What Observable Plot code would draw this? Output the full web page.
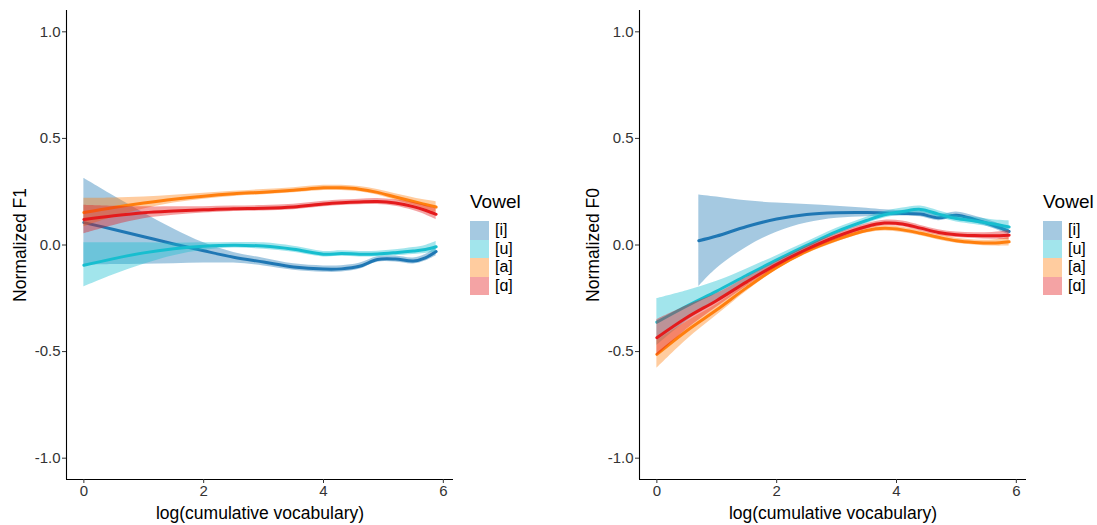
<!DOCTYPE html>
<html>
<head>
<meta charset="utf-8">
<script src="https://cdn.jsdelivr.net/npm/d3@7"></script>
<script src="https://cdn.jsdelivr.net/npm/@observablehq/plot@0.6"></script>
<style>
  html, body { margin: 0; padding: 0; background: #fff; }
  #root { position: relative; width: 1097px; height: 525px; font-family: "Liberation Sans", Arial, sans-serif; }
  .panel { position: absolute; top: 0; }
  .legend { position: absolute; top: 0; }
  .legend .title { position: absolute; left: 0; top: 191px; font-size: 19px; color: #000; white-space: nowrap; }
  .legend .key { position: absolute; left: 0; width: 19px; height: 18.5px; }
  .legend .lab { position: absolute; left: 25px; font-size: 16px; color: #000; line-height: 18.5px; white-space: nowrap; }
</style>
</head>
<body>
<div id="root"></div>
<script>
// ---------- data ----------
const vowels = ["[i]", "[u]", "[a]", "[ɑ]"];
const vowelColors = ["#1f77b4", "#17becf", "#ff7f0e", "#e41a1c"];
const xTicks = [0, 2, 4, 6];
const yTicks = [-1, -0.5, 0, 0.5, 1];
const xDomain = [-0.29, 6.17];
const yDomain = [-1.1, 1.1];

// Left panel: Normalized F1
const xF1 = [0, 0.5, 1, 1.5, 2, 2.5, 3, 3.5, 4, 4.3, 4.6, 4.9, 5.2, 5.5, 5.7, 5.88];
const f1_i    = [0.105, 0.073, 0.039, 0.005, -0.027, -0.057, -0.080, -0.103, -0.113, -0.112, -0.100, -0.068, -0.066, -0.075, -0.060, -0.031];
const f1_i_hi = [0.313, 0.230, 0.150, 0.075, 0.010, -0.035, -0.062, -0.088, -0.098, -0.097, -0.086, -0.055, -0.052, -0.061, -0.045, -0.012];
const f1_i_lo = [-0.095, -0.092, -0.090, -0.088, -0.085, -0.085, -0.098, -0.118, -0.128, -0.127, -0.114, -0.081, -0.080, -0.089, -0.075, -0.050];
const f1_u    = [-0.095, -0.064, -0.037, -0.018, -0.006, -0.001, -0.005, -0.020, -0.043, -0.040, -0.043, -0.042, -0.036, -0.028, -0.021, -0.008];
const f1_u_hi = [0.011, 0.011, 0.010, 0.008, 0.010, 0.012, 0.010, -0.006, -0.030, -0.027, -0.030, -0.029, -0.022, -0.012, -0.002, 0.016];
const f1_u_lo = [-0.197, -0.140, -0.090, -0.050, -0.025, -0.014, -0.020, -0.034, -0.056, -0.053, -0.056, -0.055, -0.050, -0.044, -0.040, -0.032];
const f1_a    = [0.152, 0.176, 0.197, 0.215, 0.229, 0.240, 0.248, 0.257, 0.268, 0.268, 0.262, 0.247, 0.225, 0.204, 0.190, 0.178];
const f1_a_hi = [0.219, 0.221, 0.225, 0.233, 0.243, 0.252, 0.260, 0.269, 0.280, 0.280, 0.274, 0.260, 0.240, 0.222, 0.211, 0.203];
const f1_a_lo = [0.085, 0.131, 0.169, 0.197, 0.215, 0.228, 0.236, 0.245, 0.256, 0.256, 0.250, 0.234, 0.210, 0.186, 0.169, 0.153];
const f1_A    = [0.120, 0.137, 0.151, 0.159, 0.165, 0.170, 0.172, 0.178, 0.192, 0.198, 0.202, 0.204, 0.197, 0.180, 0.163, 0.144];
const f1_A_hi = [0.187, 0.182, 0.179, 0.179, 0.180, 0.183, 0.185, 0.191, 0.205, 0.211, 0.215, 0.218, 0.212, 0.198, 0.184, 0.169];
const f1_A_lo = [0.053, 0.092, 0.123, 0.139, 0.150, 0.157, 0.159, 0.165, 0.179, 0.185, 0.189, 0.190, 0.182, 0.162, 0.142, 0.119];

// Right panel: Normalized F0
const xF0  = [0, 0.5, 1, 1.5, 2, 2.5, 3, 3.5, 3.8, 4.1, 4.4, 4.7, 5.0, 5.3, 5.6, 5.88];
const xF0i = [0.7, 1, 1.5, 2, 2.5, 3, 3.5, 3.8, 4.1, 4.4, 4.7, 5.0, 5.3, 5.6, 5.88];
const f0_i    = [0.020, 0.042, 0.087, 0.122, 0.143, 0.151, 0.152, 0.150, 0.148, 0.145, 0.128, 0.140, 0.120, 0.094, 0.064];
const f0_i_hi = [0.235, 0.225, 0.207, 0.197, 0.190, 0.182, 0.172, 0.165, 0.160, 0.158, 0.142, 0.155, 0.136, 0.110, 0.080];
const f0_i_lo = [-0.195, -0.110, -0.010, 0.060, 0.103, 0.125, 0.133, 0.135, 0.136, 0.132, 0.114, 0.126, 0.105, 0.078, 0.048];
const f0_u    = [-0.362, -0.286, -0.216, -0.142, -0.070, -0.002, 0.063, 0.115, 0.142, 0.157, 0.167, 0.145, 0.124, 0.113, 0.100, 0.085];
const f0_u_hi = [-0.252, -0.215, -0.170, -0.112, -0.050, 0.014, 0.078, 0.130, 0.157, 0.173, 0.183, 0.161, 0.140, 0.130, 0.118, 0.113];
const f0_u_lo = [-0.472, -0.357, -0.262, -0.172, -0.090, -0.018, 0.048, 0.100, 0.127, 0.141, 0.151, 0.129, 0.108, 0.096, 0.082, 0.057];
const f0_a    = [-0.513, -0.402, -0.304, -0.200, -0.105, -0.030, 0.025, 0.068, 0.078, 0.071, 0.055, 0.036, 0.020, 0.012, 0.009, 0.015];
const f0_a_hi = [-0.448, -0.360, -0.278, -0.183, -0.093, -0.018, 0.037, 0.080, 0.090, 0.083, 0.067, 0.048, 0.032, 0.024, 0.023, 0.035];
const f0_a_lo = [-0.578, -0.444, -0.330, -0.217, -0.117, -0.042, 0.013, 0.056, 0.066, 0.059, 0.043, 0.024, 0.008, 0.000, -0.005, -0.005];
const f0_A    = [-0.435, -0.340, -0.260, -0.173, -0.091, -0.020, 0.040, 0.087, 0.103, 0.099, 0.079, 0.059, 0.048, 0.044, 0.043, 0.046];
const f0_A_hi = [-0.350, -0.285, -0.228, -0.153, -0.078, -0.007, 0.053, 0.100, 0.116, 0.112, 0.092, 0.072, 0.061, 0.057, 0.059, 0.068];
const f0_A_lo = [-0.520, -0.395, -0.292, -0.193, -0.104, -0.033, 0.027, 0.074, 0.090, 0.086, 0.066, 0.046, 0.035, 0.031, 0.027, 0.024];

// ---------- build rows ----------
function rows(xs, ys, lo, hi) {
  return xs.map((x, k) => ({x, y: ys[k], lo: lo[k], hi: hi[k]}));
}
const seriesF1 = [
  rows(xF1, f1_i, f1_i_lo, f1_i_hi),
  rows(xF1, f1_u, f1_u_lo, f1_u_hi),
  rows(xF1, f1_a, f1_a_lo, f1_a_hi),
  rows(xF1, f1_A, f1_A_lo, f1_A_hi)
];
const seriesF0 = [
  rows(xF0i, f0_i, f0_i_lo, f0_i_hi),
  rows(xF0, f0_u, f0_u_lo, f0_u_hi),
  rows(xF0, f0_a, f0_a_lo, f0_a_hi),
  rows(xF0, f0_A, f0_A_lo, f0_A_hi)
];

const FONT = "Liberation Sans, Arial, Helvetica, sans-serif";

function panel(series, yLabel, width) {
  const marks = [];
  series.forEach((data, k) => {
    marks.push(Plot.areaY(data, {x: "x", y1: "lo", y2: "hi", fill: vowelColors[k], fillOpacity: 0.4, curve: "catmull-rom"}));
    marks.push(Plot.lineY(data, {x: "x", y: "y", stroke: vowelColors[k], strokeWidth: 3, curve: "catmull-rom"}));
  });
  return Plot.plot({
    width: width,
    height: 525,
    marginLeft: 66,
    marginRight: width - 453,
    marginTop: 10,
    marginBottom: 46,
    style: {fontFamily: FONT, fontSize: "15px", color: "#333", background: "transparent", overflow: "visible"},
    x: {domain: xDomain},
    y: {domain: yDomain},
    marks: [
      ...marks,
      Plot.ruleX([xDomain[0]], {stroke: "#000", strokeWidth: 1.1}),
      Plot.ruleY([yDomain[0]], {stroke: "#000", strokeWidth: 1.1}),
      Plot.axisX({ticks: xTicks, tickSize: 4, tickPadding: 2, tickFormat: d => String(d), label: null, stroke: "#333", fill: "#333", fontSize: 15}),
      Plot.axisY({ticks: yTicks, tickSize: 4, tickPadding: 2, tickFormat: d => d.toFixed(1), label: null, stroke: "#333", fill: "#333", fontSize: 15}),
      Plot.text(["log(cumulative vocabulary)"], {frameAnchor: "bottom", dy: 39, text: d => d, fontSize: 17.5, fill: "#000", textAnchor: "middle", lineAnchor: "bottom"}),
      Plot.text([yLabel], {frameAnchor: "left", dx: -46, rotate: -90, text: d => d, fontSize: 17.5, fill: "#000", textAnchor: "middle", lineAnchor: "middle"})
    ]
  });
}

const root = document.getElementById("root");
const left = panel(seriesF1, "Normalized F1", 573);
left.classList.add("panel");
left.style.left = "0px";
root.appendChild(left);
const right = panel(seriesF0, "Normalized F0", 524);
right.classList.add("panel");
right.style.left = "573px";
root.appendChild(right);

function legend(leftPx) {
  const div = document.createElement("div");
  div.className = "legend";
  div.style.left = leftPx + "px";
  const t = document.createElement("div");
  t.className = "title";
  t.textContent = "Vowel";
  div.appendChild(t);
  vowels.forEach((v, k) => {
    const key = document.createElement("div");
    key.className = "key";
    key.style.top = (221 + k * 18.5) + "px";
    key.style.background = vowelColors[k];
    key.style.opacity = 0.4;
    div.appendChild(key);
    const lab = document.createElement("div");
    lab.className = "lab";
    lab.style.top = (221 + k * 18.5) + "px";
    lab.textContent = v;
    div.appendChild(lab);
  });
  root.appendChild(div);
}
legend(470);
legend(1043);
</script>
</body>
</html>
